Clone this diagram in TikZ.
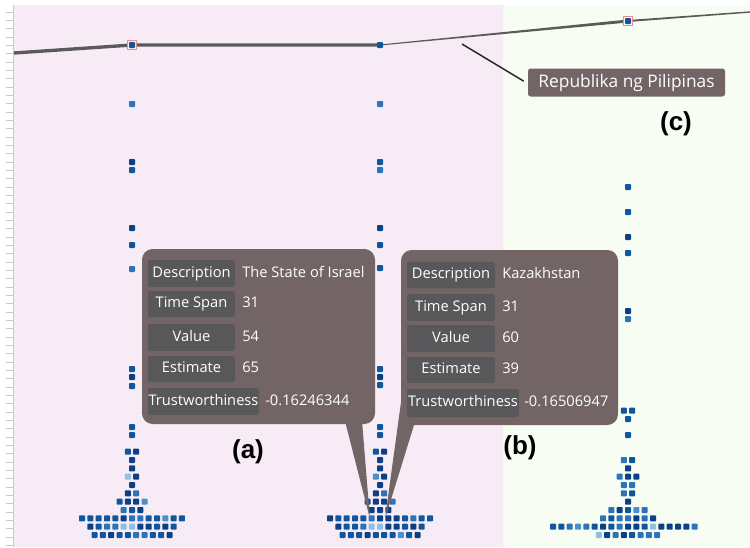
\documentclass[tikz,border=0pt]{standalone}
\usepackage{fontspec}
\setmainfont{Open Sans}
\newfontfamily\arialf{Liberation Sans}
\definecolor{bgpink}{HTML}{F7ECF5}
\definecolor{bggreen}{HTML}{F7FDF2}
\definecolor{tipfill}{HTML}{736566}
\definecolor{labfill}{HTML}{58585A}
\definecolor{linegray}{HTML}{5A5A5A}
\definecolor{axisgray}{HTML}{C8C8C8}
\definecolor{ca}{HTML}{0B3F86}
\definecolor{cb}{HTML}{10569F}
\definecolor{cc}{HTML}{2B74B9}
\definecolor{cd}{HTML}{4A90CB}
\definecolor{ce}{HTML}{8FC0E2}
\definecolor{redline}{HTML}{F08A8A}
\newcommand\dt[3]{\fill[#3, rounded corners=0.6pt] ({#1-3},{#2-3}) rectangle ({#1+3},{#2+3});}
\newcommand\drow[4]{\foreach \cl [count=\ii from 0] in {#4} {\dt{#2+(#3+\ii)*8.333}{#1}{\cl}}}
\tikzset{
  lab/.style={font=\fontsize{11}{13}\selectfont, text=white, inner sep=0pt, anchor=mid},
  val/.style={lab, anchor=mid west},
  labbox/.style={fill=labfill, rounded corners=1.5pt},
  tip/.style={fill=tipfill},
  panel/.style={font={\arialf\bfseries\fontsize{19.5}{22}\selectfont}, text=black, inner sep=0pt}
}
\begin{document}
\begin{tikzpicture}[x=0.75pt,y=-0.75pt]
\useasboundingbox (0,0) rectangle (750,547);
\fill[white] (0,0) rectangle (750,547);
\fill[bgpink] (14,5) rectangle (503,547);
\fill[bggreen] (503,5) rectangle (750,547);
% axis
\draw[axisgray, line width=1.2pt] (13.5,5) -- (13.5,547);
\foreach \k in {0,...,64} \draw[axisgray, line width=0.7pt] (6,{12+\k*8.333}) -- (13,{12+\k*8.333});
% trend line
\draw[linegray, line width=2.5pt, line join=round] (14,53) -- (132,45) -- (380,45);
\fill[linegray] (380,44.5) -- (628,19.5) -- (628,22.5) -- (380,45.5) -- cycle;
\fill[linegray] (628,20) -- (750,11.3) -- (750,12.7) -- (628,22) -- cycle;
% red highlighted points
\draw[redline, line width=0.8pt, fill=bgpink] (127.5,40.5) rectangle (136.5,49.5);
\draw[redline, line width=0.8pt, fill=bggreen] (623.5,16.5) rectangle (632.5,25.5);
\dt{132}{45}{cb}
\dt{628}{21}{cb}
\dt{380}{45}{cb}
% column 1
\foreach \yy/\cl in {104/cc,162/ca,170/cb,228/ca,245/cb,269/cc,369/cb,377/ca,386/cb,427/cb,435/cb,460/ca,468.3/ca,485/ca} {\dt{132}{\yy}{\cl}}
\drow{451.7}{132}{-0.5}{cb,ca}
\drow{476.7}{132}{-0.5}{ce,ca}
\drow{493.3}{132}{-0.5}{ca,cc}
\drow{501.7}{132}{-1.5}{cb,ca,ca,cd}
\drow{510}{132}{-1}{cc,cb,ca}
\drow{518.3}{132}{-6}{cb,cb,cb,cb,cb,ca,cc,cc,cb,cb,cd,cb,cb}
\drow{526.7}{132}{-5}{ca,cb,cc,cc,ce,ce,ca,ca,cb,ca,cb}
\drow{535}{132}{-4.5}{cb,cb,ca,cb,cb,cc,cc,cb,cb,ca}
% column 2
\foreach \yy/\cl in {104/cc,162/cb,170/cc,228/ca,245/cb,268/cb,369/cb,377/ca,385/cb,427/cb,435/cb,460/ca,468.3/ca,485/ca} {\dt{380}{\yy}{\cl}}
\drow{451.7}{380}{-0.5}{cb,ca}
\drow{476.7}{380}{-0.5}{cd,ca}
\drow{493.3}{380}{-0.5}{ca,cc}
\drow{501.7}{380}{-1.5}{cb,ca,ca,cc}
\drow{510}{380}{-1}{ca,ca,ca}
\drow{518.3}{380}{-6}{ca,cb,cb,cb,cb,cc,ca,ca,ca,cb,cc,cb,cb}
\drow{526.7}{380}{-5}{ca,cb,cb,cc,ce,ce,ca,ca,cb,ca,cb}
\drow{535}{380}{-4.5}{cb,cb,cb,ca,cb,cb,cb,cd,cb,ca}
% column 3
\foreach \yy/\cl in {187/cb,212/cb,237/ca,253/cb,311/ca,319/cc,419/cb,435/cb,468.3/ca,501.7/ca} {\dt{628}{\yy}{\cl}}
\drow{410.7}{628}{-0.5}{cb,cb}
\drow{460}{628}{-0.5}{cc,cb}
\drow{476.7}{628}{-1}{cc,ca,ca}
\drow{485}{628}{-0.5}{cc,cc}
\drow{493.3}{628}{-0.5}{cc,cb}
\drow{510}{628}{-2}{cc,ca,cb,cd,cc}
\drow{518.3}{628}{-3}{cc,cb,cc,cc,ca,cc,ca}
\drow{526.7}{628}{-9}{cb,cb,cc,cd,cc,cb,ca,cb,cc,ca,ca,cb,ce,ca,ca,ca,ca,cc}
\drow{535}{628}{-3.5}{ce,ca,cc,ca,cb,cc,cc,cc}
% callout label
\node[fill=tipfill, rounded corners=2pt, text=white, font=\fontsize{13}{15}\selectfont, minimum width=147.75pt, minimum height=21pt, inner sep=0pt] (rp) at (626.5,82.5) {Republika ng Pilipinas};
\coordinate (cp) at (462,44);
\draw[line width=1.1pt, black!85] (cp) -- ([xshift=-3pt,yshift=1pt]rp.west);
% tooltip (a)
\fill[tip, rounded corners=8pt] (142,249) rectangle (375,424);
\fill[tip] (345,421) -- (362,421) -- (370,519) -- cycle;
\fill[labbox] (148,260) rectangle (235,287);
\fill[labbox] (148,291) rectangle (235,317);
\fill[labbox] (148,324) rectangle (235,351);
\fill[labbox] (148,356) rectangle (235,382);
\fill[labbox] (148,388) rectangle (259,415);
\node[lab] (a1) at (191.5,273.5) {Description};
\node[lab] (a2) at (191.5,304) {Time Span};
\node[lab] (a3) at (191.5,337.5) {Value};
\node[lab] (a4) at (191.5,369) {Estimate};
\node[lab] (a5) at (203.5,401.5) {Trustworthiness};
\node[val] (av1) at (242,273.5) {The State of Israel};
\node[val] (av2) at (242,304) {31};
\node[val] (av3) at (242,337.5) {54};
\node[val] (av4) at (242,369) {65};
\node[val] (av5) at (265,401.5) {-0.16246344};
% tooltip (b)
\fill[tip, rounded corners=8pt] (401,250) rectangle (618,425);
\fill[tip] (401,400) rectangle (412,425);
\fill[tip] (401,402) -- (414,425) -- (385,519) -- cycle;
\fill[labbox] (407,262) rectangle (495,288);
\fill[labbox] (407,294) rectangle (495,321);
\fill[labbox] (407,325) rectangle (495,352);
\fill[labbox] (407,357) rectangle (495,383);
\fill[labbox] (407,389) rectangle (519,417);
\node[lab] (b1) at (451,275) {Description};
\node[lab] (b2) at (451,307.5) {Time Span};
\node[lab] (b3) at (451,338.5) {Value};
\node[lab] (b4) at (451,370) {Estimate};
\node[lab] (b5) at (463,403) {Trustworthiness};
\node[val] (bv1) at (502,275) {Kazakhstan};
\node[val] (bv2) at (502,307.5) {31};
\node[val] (bv3) at (502,338.5) {60};
\node[val] (bv4) at (502,370) {39};
\node[val] (bv5) at (524,403) {-0.16506947};
% panel labels
\node[panel] (pa) at (248,452) {(a)};
\node[panel] (pb) at (520,448) {(b)};
\node[panel] (pc) at (676,124) {(c)};
\end{tikzpicture}
\end{document}
